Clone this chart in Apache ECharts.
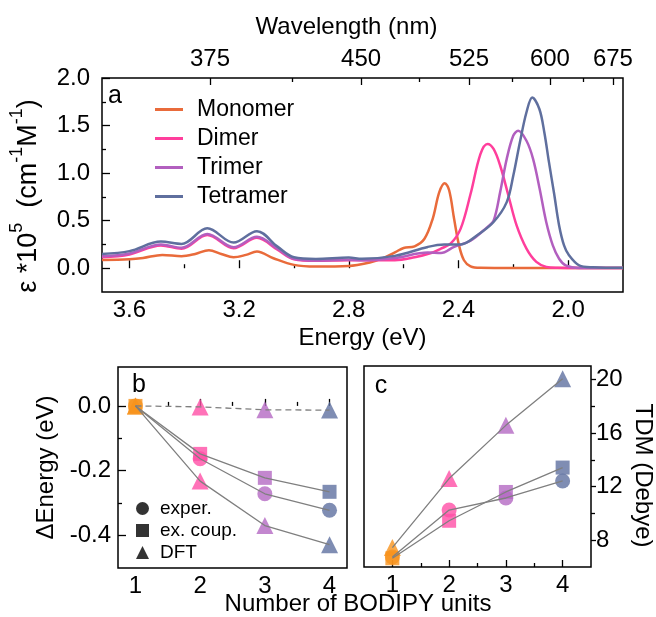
<!DOCTYPE html>
<html><head><meta charset="utf-8">
<script src="https://cdn.jsdelivr.net/npm/echarts@6/dist/echarts.min.js"></script>
<style>html,body{margin:0;padding:0;background:#fff}#c{width:656px;height:617px}</style>
</head><body><div id="c"></div>
<script>
// ---------- Panel a: absorption spectra (energy eV, epsilon *1e5) ----------
const monomerE = [3.70,3.60,3.55,3.48,3.41,3.36,3.31,3.265,3.22,3.175,3.135,3.075,3.00,2.92,2.80,2.72,2.68,2.63,2.60,2.56,2.524,2.494,2.47,2.45,2.434,2.416,2.398,2.38,2.356,2.32,2.20,2.00,1.80];
const monomerV = [0.087,0.094,0.108,0.14,0.126,0.15,0.19,0.15,0.115,0.14,0.175,0.105,0.035,0.017,0.024,0.063,0.10,0.17,0.213,0.23,0.31,0.52,0.80,0.894,0.82,0.52,0.24,0.084,0.02,0.004,0.002,0.002,0.002];
const dimerE = [3.70,3.60,3.485,3.41,3.316,3.22,3.135,3.06,3.00,2.92,2.80,2.632,2.56,2.50,2.464,2.428,2.392,2.356,2.32,2.294,2.272,2.248,2.218,2.188,2.152,2.116,2.08,2.04,1.95,1.80];
const dimerV = [0.115,0.145,0.24,0.205,0.35,0.21,0.32,0.195,0.095,0.078,0.084,0.084,0.115,0.16,0.206,0.26,0.416,0.78,1.20,1.307,1.254,1.08,0.765,0.45,0.206,0.066,0.014,0.004,0.002,0.002];
const trimerE = [3.70,3.60,3.485,3.41,3.316,3.22,3.135,3.06,3.00,2.92,2.80,2.752,2.632,2.512,2.464,2.416,2.356,2.296,2.272,2.248,2.224,2.20,2.182,2.152,2.128,2.104,2.08,2.056,2.033,2.009,1.96,1.90,1.80];
const trimerV = [0.125,0.155,0.25,0.215,0.36,0.22,0.33,0.205,0.10,0.082,0.088,0.084,0.108,0.164,0.16,0.224,0.29,0.43,0.50,0.80,1.15,1.395,1.446,1.34,1.15,0.835,0.486,0.24,0.10,0.03,0.003,0.004,0.002];
const tetramerE = [3.70,3.60,3.485,3.41,3.316,3.22,3.135,3.06,3.00,2.92,2.80,2.752,2.632,2.512,2.452,2.392,2.332,2.272,2.224,2.20,2.176,2.152,2.131,2.105,2.087,2.07,2.051,2.033,2.015,1.997,1.96,1.91,1.80];
const tetramerV = [0.15,0.18,0.28,0.255,0.42,0.27,0.39,0.227,0.115,0.098,0.112,0.10,0.13,0.224,0.25,0.25,0.346,0.486,0.695,0.975,1.325,1.64,1.796,1.674,1.43,1.115,0.78,0.45,0.24,0.136,0.03,0.01,0.004];

const energyTicks = [2.0,2.4,2.8,3.2,3.6];
const energyMinorTicks = [2.2,2.6,3.0,3.4];
const wavelengthTicks = [375,450,525,600,675];
const wavelengthMinorTicks = [412.5,487.5,562.5,637.5];
const epsTicks = [0,0.5,1.0,1.5,2.0];
const epsMinorTicks = [0.25,0.75,1.25,1.75];

// ---------- Panels b, c ----------
const units = [1,2,3,4];
const unitMinorTicks = [1.5,2.5,3.5];
const dE_exper = [0,-0.163,-0.271,-0.322];
const dE_exCoup = [0,-0.148,-0.222,-0.265];
const dE_DFT = [0,-0.232,-0.369,-0.428];
const dE_DFT_dashed = [0,-0.003,-0.012,-0.013];
const dETicks = [-0.4,-0.2,0.0];
const dEMinorTicks = [-0.3,-0.1];
const tdm_exper = [6.75,10.25,11.15,12.42];
const tdm_exCoup = [6.65,9.45,11.6,13.42];
const tdm_DFT = [7.45,12.6,16.57,20.05];
const tdmTicks = [8,12,16,20];
const tdmMinorTicks = [10,14,18];

const specColors = ['#E96B3B','#FF3E9C','#B25FBF','#5F6F9E'];
const unitColors = ['#F7931E','#FF4FA6','#B469C3','#5F70A0'];
const HC = 1239.84;
const FONT = 'Liberation Sans, Arial, sans-serif';

const zip = (a,b) => a.map((x,i)=>[x,b[i]]);

function axisBase(extra){
  return Object.assign({
    type:'value', splitLine:{show:false}, axisLine:{show:false},
    axisLabel:{show:false}, axisTick:{show:false}
  }, extra);
}
const labelStyle = {color:'#000', fontSize:24, fontFamily:FONT};
const nameStyle = {color:'#000', fontSize:24, fontFamily:FONT};
const tickStyle = {color:'#000', width:1.3};

const option = {
  animation:false,
  backgroundColor:'#fff',
  textStyle:{fontFamily:FONT},
  grid:[
    {left:97, top:78, width:526, height:214, show:true, borderColor:'#000', borderWidth:1.5, backgroundColor:'transparent'},
    {left:118, top:367, width:229, height:201, show:true, borderColor:'#000', borderWidth:1.5, backgroundColor:'transparent'},
    {left:364, top:366, width:227, height:201, show:true, borderColor:'#000', borderWidth:1.5, backgroundColor:'transparent'}
  ],
  xAxis:[
    axisBase({gridIndex:0, min:1.8, max:3.7, inverse:true, position:'bottom',
      name:'Energy (eV)', nameLocation:'middle', nameGap:34, nameTextStyle:nameStyle,
      axisTick:{show:true, inside:true, length:8, lineStyle:tickStyle, customValues:energyTicks},
      axisLabel:{show:true, margin:6, customValues:energyTicks, formatter:v=>v.toFixed(1), ...labelStyle}}),
    axisBase({gridIndex:0, min:1.8, max:3.7, inverse:true, position:'bottom',
      axisTick:{show:true, inside:true, length:4, lineStyle:tickStyle, customValues:energyMinorTicks}}),
    axisBase({gridIndex:0, min:1.8, max:3.7, inverse:true, position:'top',
      name:'Wavelength (nm)', nameLocation:'middle', nameGap:39, nameTextStyle:{...nameStyle, padding:[0,32,0,0]},
      axisTick:{show:true, inside:true, length:7, lineStyle:tickStyle, customValues:wavelengthTicks.map(w=>HC/w)},
      axisLabel:{show:true, margin:7, customValues:wavelengthTicks.map(w=>HC/w), formatter:v=>String(Math.round(HC/v)), ...labelStyle}}),
    axisBase({gridIndex:0, min:1.8, max:3.7, inverse:true, position:'top',
      axisTick:{show:true, inside:true, length:4, lineStyle:tickStyle, customValues:wavelengthMinorTicks.map(w=>HC/w)}}),
    axisBase({gridIndex:1, min:0.73, max:4.27, position:'bottom',
      axisTick:{show:true, inside:true, length:7, lineStyle:tickStyle, customValues:units},
      axisLabel:{show:true, margin:6, customValues:units, formatter:v=>String(v), ...labelStyle}}),
    axisBase({gridIndex:1, min:0.73, max:4.27, position:'bottom',
      axisTick:{show:true, inside:true, length:4, lineStyle:tickStyle, customValues:unitMinorTicks}}),
    axisBase({gridIndex:2, min:0.5, max:4.5, position:'bottom',
      axisTick:{show:true, inside:true, length:7, lineStyle:tickStyle, customValues:units},
      axisLabel:{show:true, margin:6, customValues:units, formatter:v=>String(v), ...labelStyle}}),
    axisBase({gridIndex:2, min:0.5, max:4.5, position:'bottom',
      axisTick:{show:true, inside:true, length:4, lineStyle:tickStyle, customValues:unitMinorTicks}})
  ],
  yAxis:[
    axisBase({gridIndex:0, min:-0.25, max:2.0, position:'left',
      name:'{n|ε *10}{s|5}{n|  (cm}{s|-1}{n|M}{s|-1}{n|)}', nameLocation:'middle', nameGap:60, nameRotate:90,
      nameTextStyle:{padding:[0,22,0,0], rich:{n:{fontSize:27, fontFamily:FONT, color:'#000', lineHeight:34, verticalAlign:'bottom'}, s:{fontSize:18, fontFamily:FONT, color:'#000', lineHeight:34, verticalAlign:'top'}}},
      axisTick:{show:true, inside:true, length:8, lineStyle:tickStyle, customValues:epsTicks},
      axisLabel:{show:true, margin:12, customValues:epsTicks, formatter:v=>v.toFixed(1), ...labelStyle}}),
    axisBase({gridIndex:0, min:-0.25, max:2.0, position:'left',
      axisTick:{show:true, inside:true, length:4, lineStyle:tickStyle, customValues:epsMinorTicks}}),
    axisBase({gridIndex:1, min:-0.5, max:0.12, position:'left',
      name:'ΔEnergy (eV)', nameLocation:'middle', nameGap:60, nameRotate:90, nameTextStyle:nameStyle,
      axisTick:{show:true, inside:true, length:8, lineStyle:tickStyle, customValues:dETicks},
      axisLabel:{show:true, margin:7, customValues:dETicks, formatter:v=>v.toFixed(1), ...labelStyle}}),
    axisBase({gridIndex:1, min:-0.5, max:0.12, position:'left',
      axisTick:{show:true, inside:true, length:4, lineStyle:tickStyle, customValues:dEMinorTicks}}),
    axisBase({gridIndex:2, min:6, max:21, position:'right',
      name:'TDM (Debye)', nameLocation:'middle', nameGap:40, nameRotate:-90, nameTextStyle:{...nameStyle, padding:[0,0,0,18]},
      axisTick:{show:true, inside:false, length:5, lineStyle:tickStyle, customValues:tdmTicks},
      axisLabel:{show:true, margin:5, customValues:tdmTicks, formatter:v=>String(v), ...labelStyle}}),
    axisBase({gridIndex:2, min:6, max:21, position:'right',
      axisTick:{show:true, inside:false, length:4, lineStyle:tickStyle, customValues:tdmMinorTicks}})
  ],
  legend:[
    {orient:'vertical', left:150, top:93, itemWidth:28, itemHeight:3, itemGap:6,
      textStyle:{fontSize:23, color:'#000', fontFamily:FONT, padding:[0,0,0,9]},
      selectedMode:false,
      data:['Monomer','Dimer','Trimer','Tetramer'].map(n=>({name:n, icon:'rect'}))},
    {orient:'vertical', left:131, top:494, itemWidth:13, itemHeight:13, itemGap:3,
      textStyle:{fontSize:19, color:'#000', fontFamily:FONT, padding:[0,0,0,6]},
      selectedMode:false,
      data:[{name:'exper.', icon:'circle', itemStyle:{color:'#000'}},
            {name:'ex. coup.', icon:'rect', itemStyle:{color:'#000'}},
            {name:'DFT', icon:'triangle', itemStyle:{color:'#000'}}]}
  ],
  graphic:[
    {type:'text', x:115, y:96, style:{text:'a', font:'25px '+FONT, fill:'#000', align:'center', verticalAlign:'middle'}},
    {type:'text', x:139, y:385, style:{text:'b', font:'25px '+FONT, fill:'#000', align:'center', verticalAlign:'middle'}},
    {type:'text', x:381, y:386, style:{text:'c', font:'25px '+FONT, fill:'#000', align:'center', verticalAlign:'middle'}},
    {type:'text', x:358, y:604, style:{text:'Number of BODIPY units', font:'24px '+FONT, fill:'#000', align:'center', verticalAlign:'middle'}}
  ],
  series:[]
};

const specNames = ['Monomer','Dimer','Trimer','Tetramer'];
const specData = [zip(monomerE,monomerV), zip(dimerE,dimerV), zip(trimerE,trimerV), zip(tetramerE,tetramerV)];
specNames.forEach((n,i)=>{
  option.series.push({type:'line', name:n, xAxisIndex:0, yAxisIndex:0, data:specData[i], symbol:'none', smooth:0.35,
    color:specColors[i], itemStyle:{color:specColors[i]}, lineStyle:{width:2.5, color:specColors[i]}, z:2+i});
});

function scatter(name, vals, sym, size, xi, yi, z){
  return {type:'scatter', name:name, xAxisIndex:xi, yAxisIndex:yi, symbol:sym, symbolSize:size, z:z,
    data: vals.map((v,i)=>({value:[units[i], v], itemStyle:{color:unitColors[i]}}))};
}
function gline(name, vals, xi, yi, dashed){
  return {type:'line', name:name, xAxisIndex:xi, yAxisIndex:yi, symbol:'none', z:10,
    data: vals.map((v,i)=>[units[i], v]),
    lineStyle:{color:'#7f7f7f', width:1.3, type: dashed?[6,4]:'solid'}};
}
// panel b
option.series.push(
  scatter('DFT', dE_DFT_dashed, 'triangle', 17, 4, 2, 3),
  scatter('DFT', dE_DFT, 'triangle', 17, 4, 2, 3),
  scatter('ex. coup.', dE_exCoup, 'rect', 14, 4, 2, 4),
  scatter('exper.', dE_exper, 'circle', 15, 4, 2, 5),
  gline('bDash', dE_DFT_dashed, 4, 2, true),
  gline('bDFT', dE_DFT, 4, 2, false),
  gline('bCoup', dE_exCoup, 4, 2, false),
  gline('bExp', dE_exper, 4, 2, false)
);
// panel c
option.series.push(
  scatter('exper.', tdm_exper, 'circle', 15, 6, 4, 3),
  scatter('ex. coup.', tdm_exCoup, 'rect', 14, 6, 4, 4),
  scatter('DFT', tdm_DFT, 'triangle', 17, 6, 4, 5),
  gline('cDFT', tdm_DFT, 6, 4, false),
  gline('cCoup', tdm_exCoup, 6, 4, false),
  gline('cExp', tdm_exper, 6, 4, false)
);

const chart = echarts.init(document.getElementById('c'), null, {renderer:'canvas'});
chart.setOption(option);
</script>
</body></html>
